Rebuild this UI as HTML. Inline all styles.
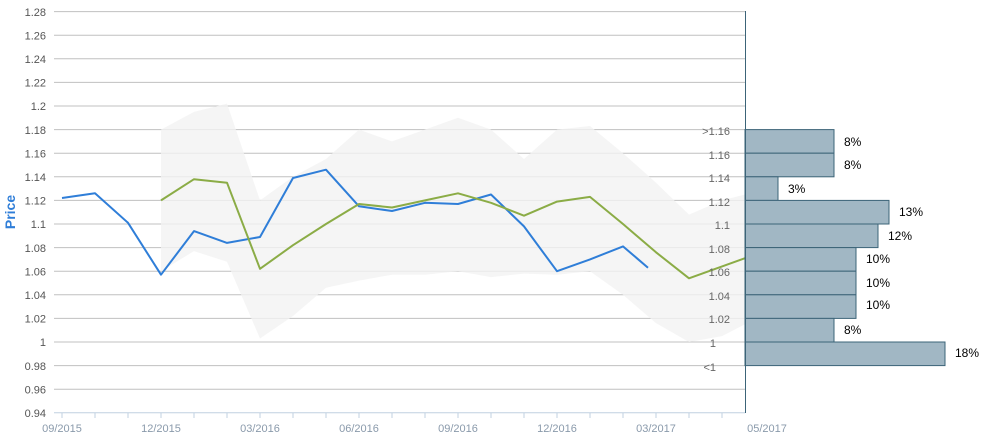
<!DOCTYPE html>
<html><head><meta charset="utf-8"><style>
html,body{margin:0;padding:0;background:#fff;width:988px;height:438px;overflow:hidden}
svg text{font-family:"Liberation Sans",sans-serif}
</style></head><body>
<svg width="988" height="438" viewBox="0 0 988 438" xmlns="http://www.w3.org/2000/svg">
<g stroke="#c0c0c0" stroke-width="1">
<line x1="54" x2="745" y1="11.6" y2="11.6"/><line x1="54" x2="745" y1="35.2" y2="35.2"/>
<line x1="54" x2="745" y1="58.8" y2="58.8"/><line x1="54" x2="745" y1="82.4" y2="82.4"/>
<line x1="54" x2="745" y1="106" y2="106"/><line x1="54" x2="745" y1="129.6" y2="129.6"/>
<line x1="54" x2="745" y1="153.2" y2="153.2"/><line x1="54" x2="745" y1="176.8" y2="176.8"/>
<line x1="54" x2="745" y1="200.4" y2="200.4"/><line x1="54" x2="745" y1="224" y2="224"/>
<line x1="54" x2="745" y1="247.6" y2="247.6"/><line x1="54" x2="745" y1="271.2" y2="271.2"/>
<line x1="54" x2="745" y1="294.8" y2="294.8"/><line x1="54" x2="745" y1="318.4" y2="318.4"/>
<line x1="54" x2="745" y1="342" y2="342"/><line x1="54" x2="745" y1="365.6" y2="365.6"/>
<line x1="54" x2="745" y1="389.2" y2="389.2"/>
</g>
<polygon fill="#f3f3f3" fill-opacity="0.8" points="161,129.6 194,111.9 227,103.6 260,200.4 293,176.8 326,159 359,129.6 392,141.4 425,129.6 458,117.8 491,129.6 524,159 557,129.6 590,126 623,153.2 656,182.7 689,214.6 722,200.4 745,194.5 745,324.3 722,336.1 689,342 656,323.1 623,294.8 590,271.2 557,274.7 524,273.6 491,277.1 458,271.2 425,274.7 392,274.7 359,280.6 326,287.7 293,316 260,338.5 227,261.8 194,251.1 161,271.2"/>
<line x1="54" x2="745" y1="412.8" y2="412.8" stroke="#c0d0e0" stroke-width="1"/>
<g stroke="#c0d0e0">
<line x1="62" x2="62" y1="413" y2="418"/><line x1="95" x2="95" y1="413" y2="418"/><line x1="128" x2="128" y1="413" y2="418"/><line x1="161" x2="161" y1="413" y2="418"/><line x1="194" x2="194" y1="413" y2="418"/><line x1="227" x2="227" y1="413" y2="418"/><line x1="260" x2="260" y1="413" y2="418"/><line x1="293" x2="293" y1="413" y2="418"/><line x1="326" x2="326" y1="413" y2="418"/><line x1="359" x2="359" y1="413" y2="418"/><line x1="392" x2="392" y1="413" y2="418"/><line x1="425" x2="425" y1="413" y2="418"/><line x1="458" x2="458" y1="413" y2="418"/><line x1="491" x2="491" y1="413" y2="418"/><line x1="524" x2="524" y1="413" y2="418"/><line x1="557" x2="557" y1="413" y2="418"/><line x1="590" x2="590" y1="413" y2="418"/><line x1="623" x2="623" y1="413" y2="418"/><line x1="656" x2="656" y1="413" y2="418"/><line x1="689" x2="689" y1="413" y2="418"/><line x1="722" x2="722" y1="413" y2="418"/>
</g>
<polyline fill="none" stroke="#2f7ed8" stroke-width="2" stroke-linejoin="round" points="62,198 95,193.3 128,222.8 161,274.7 194,231.1 227,242.9 260,237 293,178 326,169.7 359,206.3 392,211 425,202.8 458,204 491,194.5 524,226.4 557,271.2 590,259.4 623,246.4 648,267.7"/>
<polyline fill="none" stroke="#8bac46" stroke-width="2" stroke-linejoin="round" points="161,200.4 194,179.2 227,182.7 260,268.8 293,245.2 326,224 359,204 392,207.5 425,200.4 458,193.3 491,202.8 524,215.7 557,201.6 590,196.9 623,224 656,252.3 689,278.3 745,258.2"/>
<g fill="#a1b7c4" stroke="#3c6478" stroke-width="1">
<rect x="745" y="129.6" width="89" height="23.6"/><rect x="745" y="153.2" width="89" height="23.6"/>
<rect x="745" y="176.8" width="33" height="23.6"/><rect x="745" y="200.4" width="144" height="23.6"/>
<rect x="745" y="224" width="133" height="23.6"/><rect x="745" y="247.6" width="111" height="23.6"/>
<rect x="745" y="271.2" width="111" height="23.6"/><rect x="745" y="294.8" width="111" height="23.6"/>
<rect x="745" y="318.4" width="89" height="23.6"/><rect x="745" y="342" width="200" height="23.6"/>
</g>
<line x1="745.5" x2="745.5" y1="11" y2="413" stroke="#3c6478" stroke-width="1"/>
<g font-size="12" fill="#000">
<text x="844" y="146">8%</text><text x="844" y="169">8%</text><text x="788" y="193">3%</text>
<text x="899" y="216">13%</text><text x="888" y="240">12%</text><text x="866" y="263">10%</text>
<text x="866" y="287">10%</text><text x="866" y="309">10%</text><text x="844" y="334">8%</text>
<text x="955" y="357">18%</text>
</g>
<g font-size="11" fill="#666" text-anchor="end">
<text x="730" y="135">&gt;1.16</text><text x="730" y="159">1.16</text><text x="730" y="182">1.14</text>
<text x="730" y="206">1.12</text><text x="730" y="229">1.1</text><text x="730" y="253">1.08</text>
<text x="730" y="276">1.06</text><text x="730" y="300">1.04</text><text x="730" y="323">1.02</text>
<text x="716" y="347">1</text><text x="716" y="371">&lt;1</text>
</g>
<g font-size="11" fill="#555" text-anchor="end">
<text x="46" y="16">1.28</text><text x="46" y="39.5">1.26</text><text x="46" y="63">1.24</text>
<text x="46" y="86.5">1.22</text><text x="46" y="110">1.2</text><text x="46" y="134">1.18</text>
<text x="46" y="157.5">1.16</text><text x="46" y="181">1.14</text><text x="46" y="204.5">1.12</text>
<text x="46" y="228">1.1</text><text x="46" y="252">1.08</text><text x="46" y="275.5">1.06</text>
<text x="46" y="299">1.04</text><text x="46" y="322.5">1.02</text><text x="46" y="346">1</text>
<text x="46" y="370">0.98</text><text x="46" y="393.5">0.96</text><text x="46" y="417">0.94</text>
</g>
<g font-size="11" fill="#8a9aab" text-anchor="middle">
<text x="62" y="432">09/2015</text><text x="161" y="432">12/2015</text><text x="260" y="432">03/2016</text>
<text x="359" y="432">06/2016</text><text x="458" y="432">09/2016</text><text x="557" y="432">12/2016</text>
<text x="656" y="432">03/2017</text><text x="767" y="432">05/2017</text>
</g>
<text x="15" y="212" font-size="14" font-weight="bold" fill="#2f7ed8" transform="rotate(-90 15 212)" text-anchor="middle">Price</text>
</svg>
</body></html>
